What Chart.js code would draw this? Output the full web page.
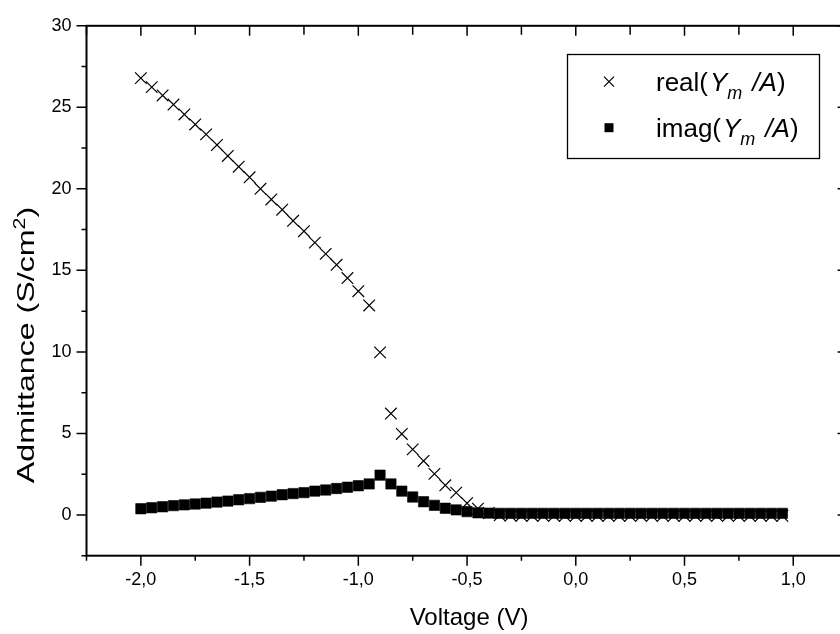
<!DOCTYPE html>
<html>
<head>
<meta charset="utf-8">
<script src="https://cdn.jsdelivr.net/npm/chart.js@4.4.1/dist/chart.umd.min.js"></script>
<style>
  html, body { margin: 0; padding: 0; background: #fff; overflow: hidden; }
  #wrap { position: relative; width: 860px; height: 634px; }
</style>
</head>
<body>
<div id="wrap"><canvas id="chart"></canvas></div>
<script>
// Bias voltage (V)
const voltage = [
  -2.00, -1.95, -1.90, -1.85, -1.80, -1.75, -1.70, -1.65, -1.60, -1.55,
  -1.50, -1.45, -1.40, -1.35, -1.30, -1.25, -1.20, -1.15, -1.10, -1.05,
  -1.00, -0.95, -0.90, -0.85, -0.80, -0.75, -0.70, -0.65, -0.60, -0.55,
  -0.50, -0.45, -0.40, -0.35, -0.30, -0.25, -0.20, -0.15, -0.10, -0.05,
   0.00,  0.05,  0.10,  0.15,  0.20,  0.25,  0.30,  0.35,  0.40,  0.45,
   0.50,  0.55,  0.60,  0.65,  0.70,  0.75,  0.80,  0.85,  0.90,  0.95
];

// real(Ym/A) in S/cm^2
const realAdmittance = [
  26.79, 26.24, 25.73, 25.17, 24.56, 23.95, 23.34, 22.69, 22.02, 21.36,
  20.71, 20.00, 19.35, 18.72, 18.04, 17.40, 16.70, 16.01, 15.34, 14.53,
  13.72, 12.85,  9.97,  6.22,  4.97,  4.02,  3.31,  2.52,  1.82,  1.37,
   0.72,  0.38,  0.12, -0.02, -0.04, -0.05, -0.05, -0.05, -0.05, -0.05,
  -0.05, -0.05, -0.05, -0.05, -0.05, -0.05, -0.05, -0.05, -0.05, -0.05,
  -0.05, -0.05, -0.05, -0.05, -0.05, -0.05, -0.05, -0.05, -0.05, -0.05
];

// imag(Ym/A) in S/cm^2
const imagAdmittance = [
  0.38, 0.44, 0.50, 0.57, 0.62, 0.67, 0.72, 0.79, 0.85, 0.93,
  1.00, 1.08, 1.15, 1.24, 1.31, 1.37, 1.46, 1.53, 1.62, 1.70,
  1.79, 1.90, 2.44, 1.90, 1.46, 1.10, 0.81, 0.59, 0.41, 0.31,
  0.20, 0.13, 0.11, 0.10, 0.10, 0.10, 0.10, 0.10, 0.10, 0.10,
  0.10, 0.10, 0.10, 0.10, 0.10, 0.10, 0.10, 0.10, 0.10, 0.10,
  0.10, 0.10, 0.10, 0.10, 0.10, 0.10, 0.10, 0.10, 0.10, 0.10
];

// Axis ticks
const xTickValues = [-2.0, -1.5, -1.0, -0.5, 0.0, 0.5, 1.0];
const xTickLabels = ['-2,0', '-1,5', '-1,0', '-0,5', '0,0', '0,5', '1,0'];
const xMinorValues = [-2.25, -1.75, -1.25, -0.75, -0.25, 0.25, 0.75];
const yTickValues = [0, 5, 10, 15, 20, 25, 30];
const yTickLabels = ['0', '5', '10', '15', '20', '25', '30'];
const yMinorValues = [-2.5, 2.5, 7.5, 12.5, 17.5, 22.5, 27.5];

const FONT = '"Liberation Sans", Arial, Helvetica, sans-serif';

// Helpers for text made of differently styled pieces on one baseline
function measureRuns(ctx, runs) {
  let w = 0;
  runs.forEach(r => { ctx.font = r.font; w += ctx.measureText(r.text).width + (r.gap || 0); });
  return w;
}
function drawRuns(ctx, runs, x, y) {
  runs.forEach(r => {
    ctx.font = r.font;
    ctx.fillText(r.text, x, y + (r.dy || 0));
    x += ctx.measureText(r.text).width + (r.gap || 0);
  });
}

const framePlugin = {
  id: 'frame',
  afterDraw(chart) {
    const { ctx, chartArea: a, scales: { x, y } } = chart;
    ctx.save();
    ctx.strokeStyle = '#000';
    ctx.fillStyle = '#000';

    // box around the plot
    ctx.lineWidth = 2;
    ctx.strokeRect(a.left, a.top, a.right - a.left, a.bottom - a.top);

    // tick marks: outward on bottom/left, inward on top/right
    ctx.lineWidth = 1.5;
    ctx.beginPath();
    const seg = (x1, y1, x2, y2) => { ctx.moveTo(x1, y1); ctx.lineTo(x2, y2); };
    xTickValues.forEach(v => {
      const p = x.getPixelForValue(v);
      seg(p, a.bottom, p, a.bottom + 10);
      seg(p, a.top, p, a.top + 10);
    });
    xMinorValues.forEach(v => {
      const p = x.getPixelForValue(v);
      seg(p, a.bottom, p, a.bottom + 5);
      seg(p, a.top, p, a.top + 9);
    });
    yTickValues.forEach(v => {
      const p = y.getPixelForValue(v);
      seg(a.left - 10, p, a.left, p);
      seg(a.right - 10, p, a.right, p);
    });
    yMinorValues.forEach(v => {
      const p = y.getPixelForValue(v);
      seg(a.left - 5, p, a.left, p);
    });
    ctx.stroke();

    // x axis title
    ctx.textAlign = 'center';
    ctx.textBaseline = 'alphabetic';
    ctx.font = '24px ' + FONT;
    ctx.fillText('Voltage (V)', (a.left + a.right) / 2 + 2, 625);

    // y axis title with superscript, set in a widened face
    ctx.textAlign = 'left';
    const yRuns = [
      { text: 'Admittance (S/cm', font: '24px ' + FONT },
      { text: '2', font: '16px ' + FONT, dy: -9 },
      { text: ')', font: '24px ' + FONT }
    ];
    const yw = measureRuns(ctx, yRuns);
    ctx.save();
    ctx.translate(34, 345);
    ctx.rotate(-Math.PI / 2);
    ctx.scale(1.34, 1);
    drawRuns(ctx, yRuns, -yw / 2, 0);
    ctx.restore();

    // legend box
    ctx.lineWidth = 1.3;
    ctx.strokeRect(567.5, 54.5, 252, 104);
    // legend markers
    ctx.lineWidth = 1.2;
    ctx.beginPath();
    seg(604, 76.7, 614, 86.7);
    seg(604, 86.7, 614, 76.7);
    ctx.stroke();
    ctx.fillRect(604.5, 123.2, 9, 9);
    // legend labels
    const it = 'italic 26px ' + FONT, rg = '26px ' + FONT, sub = 'italic 18px ' + FONT;
    const label = head => [
      { text: head, font: rg, gap: 2 },
      { text: 'Y', font: it },
      { text: 'm', font: sub, dy: 8, gap: 10 },
      { text: '/', font: it },
      { text: 'A', font: it, gap: 0 },
      { text: ')', font: rg }
    ];
    drawRuns(ctx, label('real('), 656, 91);
    drawRuns(ctx, label('imag('), 656, 137);

    ctx.restore();
  }
};

const realPoints = voltage.map((v, i) => ({ x: v, y: realAdmittance[i] }));
const imagPoints = voltage.map((v, i) => ({ x: v, y: imagAdmittance[i] }));

new Chart(document.getElementById('chart'), {
  type: 'scatter',
  data: {
    datasets: [
      {
        label: 'real(Ym/A)',
        data: realPoints,
        pointStyle: 'crossRot',
        pointRadius: 8.2,
        borderColor: '#000',
        backgroundColor: '#000',
        borderWidth: 1.2,
        showLine: false,
        order: 2
      },
      {
        label: 'imag(Ym/A)',
        data: imagPoints,
        pointStyle: 'rect',
        pointRadius: 7.3,
        borderColor: '#000',
        backgroundColor: '#000',
        borderWidth: 0.6,
        showLine: false,
        order: 1
      }
    ]
  },
  options: {
    responsive: true,
    maintainAspectRatio: false,
    animation: false,
    events: [],
    layout: { padding: { top: 20, right: 12.4, left: 0, bottom: 0 } },
    plugins: { legend: { display: false }, tooltip: { enabled: false } },
    scales: {
      x: {
        type: 'linear',
        min: -2.25,
        max: 1.25,
        grid: { display: false, drawTicks: false },
        border: { display: false },
        afterBuildTicks: s => { s.ticks = xTickValues.map(v => ({ value: v })); },
        afterFit: s => { s.height = 78.3; },
        ticks: {
          color: '#000',
          padding: 14,
          maxRotation: 0,
          font: { family: FONT, size: 18 },
          callback: (val) => {
            const i = xTickValues.findIndex(t => Math.abs(t - val) < 1e-9);
            return i >= 0 ? xTickLabels[i] : '';
          }
        }
      },
      y: {
        type: 'linear',
        min: -2.5,
        max: 30,
        grid: { display: false, drawTicks: false },
        border: { display: false },
        afterBuildTicks: s => { s.ticks = yTickValues.map(v => ({ value: v })); },
        afterFit: s => { s.width = 86.5; },
        ticks: {
          color: '#000',
          padding: 15,
          font: { family: FONT, size: 18 },
          callback: (val) => {
            const i = yTickValues.indexOf(val);
            return i >= 0 ? yTickLabels[i] : '';
          }
        }
      }
    }
  },
  plugins: [framePlugin]
});
</script>
</body>
</html>
